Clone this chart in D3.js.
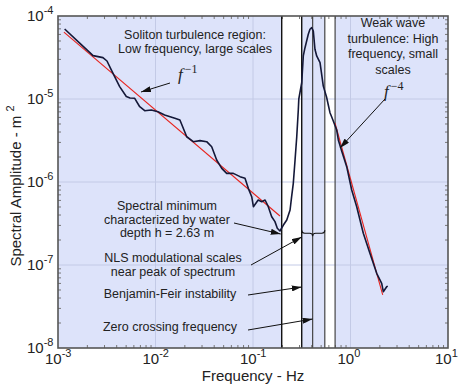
<!DOCTYPE html>
<html>
<head>
    <title>Wave spectrum</title>
    <script src="https://d3js.org/d3.v7.min.js"></script>
    <style>
        body {
            margin: 0;
            background: #fff;
        }
        svg text {
            font-family: "Liberation Sans", Arial, sans-serif;
            fill: #222;
        }
    </style>
</head>
<body>
    <div id="chart"></div>
    <script>
        // Spectrum: frequency (Hz) and amplitude (m^2)
        const freq = [
            1.17e-3, 1.68e-3, 2.29e-3, 2.89e-3, 3.18e-3, 3.52e-3, 4.29e-3, 5.02e-3, 5.48e-3, 6.12e-3,
            6.89e-3, 7.75e-3, 9.06e-3, 1.06e-2, 1.24e-2, 1.58e-2, 1.78e-2, 2.09e-2, 2.44e-2, 2.86e-2,
            3.35e-2, 3.77e-2, 4.24e-2, 4.78e-2, 5.37e-2, 6.28e-2, 7.36e-2, 8.28e-2, 8.95e-2, 9.70e-2,
            0.101, 0.113, 0.123, 0.133, 0.1435, 0.1555, 0.168, 0.1775, 0.189, 0.205,
            0.222, 0.240, 0.249, 0.259, 0.270, 0.281, 0.2915, 0.295, 0.316, 0.328,
            0.3415, 0.369, 0.384, 0.400, 0.4155, 0.432, 0.450, 0.487, 0.526, 0.570,
            0.592, 0.616, 0.642, 0.666, 0.722, 0.750, 0.812, 0.914, 1.029, 1.158,
            1.353, 1.585, 1.856, 2.089, 2.17, 2.35, 2.41
        ];
        const amp = [
            6.97e-5, 4.68e-5, 3.33e-5, 3.15e-5, 2.87e-5, 2.24e-5, 1.41e-5, 1.07e-5, 1.03e-5, 1.02e-5,
            8.07e-6, 7.23e-6, 7.37e-6, 7.03e-6, 6.42e-6, 5.85e-6, 5.58e-6, 3.51e-6, 3.06e-6, 3.15e-6,
            3.06e-6, 2.66e-6, 1.84e-6, 1.46e-6, 1.27e-6, 1.27e-6, 1.16e-6, 1.11e-6, 8.39e-7, 6.65e-7,
            5.04e-7, 6.07e-7, 5.79e-7, 6.07e-7, 5.04e-7, 3.82e-7, 3.33e-7, 2.77e-7, 2.57e-7, 3.03e-7,
            3.48e-7, 4.60e-7, 6.65e-7, 9.65e-7, 1.84e-6, 3.51e-6, 7.37e-6, 1.0e-5, 1.57e-5, 3.30e-5,
            4.15e-5, 6.02e-5, 6.92e-5, 7.23e-5, 6.60e-5, 3.97e-5, 3.30e-5, 2.74e-5, 1.43e-5, 1.04e-5,
            8.47e-6, 6.84e-6, 6.07e-6, 5.43e-6, 4.23e-6, 3.21e-6, 2.36e-6, 1.53e-6, 8.01e-7, 5.04e-7,
            2.41e-7, 1.38e-7, 7.94e-8, 6.02e-8, 4.77e-8, 5.48e-8, 5.57e-8
        ];

        // power-law fits (end points)
        const fitLow = [[1.15e-3, 6.39e-5], [0.189, 3.89e-7]];   // f^-1
        const fitHigh = [[0.693, 5.14e-6], [2.14, 4.36e-8]];     // f^-4

        // marked frequencies (Hz)
        const markFreq = [0.197, 0.316, 0.409, 0.545, 0.695];
        const whiteBands = [[0.197, 0.316], [0.545, 0.695]];

        const xTicks = [1e-3, 1e-2, 1e-1, 1e0, 1e1];
        const yTicks = [1e-8, 1e-7, 1e-6, 1e-5, 1e-4];

        const width = 463, height = 387;
        const margin = {top: 16, right: 15, bottom: 39, left: 58};

        const svg = d3.select('#chart').append('svg')
            .attr('width', width)
            .attr('height', height);

        const x = d3.scaleLog().domain([1e-3, 10]).range([margin.left, width - margin.right]);
        const y = d3.scaleLog().domain([1e-8, 1e-4]).range([height - margin.bottom, margin.top]);

        const x0 = x.range()[0], x1 = x.range()[1];
        const y0 = y.range()[1], y1 = y.range()[0];

        // arrow head
        svg.append('defs').append('marker')
            .attr('id', 'arrow')
            .attr('viewBox', '0 0 10 6')
            .attr('refX', 10).attr('refY', 3)
            .attr('markerWidth', 10).attr('markerHeight', 6)
            .attr('markerUnits', 'userSpaceOnUse')
            .attr('orient', 'auto')
            .append('path')
            .attr('d', 'M0,0 L10,3 L0,6 Z')
            .attr('fill', '#111');

        // background
        svg.append('rect')
            .attr('x', x0).attr('y', y0)
            .attr('width', x1 - x0).attr('height', y1 - y0)
            .attr('fill', '#dde3fa');

        svg.selectAll('.band')
            .data(whiteBands)
            .join('rect')
            .attr('x', d => x(d[0]))
            .attr('y', y0)
            .attr('width', d => x(d[1]) - x(d[0]))
            .attr('height', y1 - y0)
            .attr('fill', '#fff');

        // grid
        const grid = svg.append('g').attr('stroke', '#c3cae6').attr('stroke-width', 1);
        grid.selectAll('.gx')
            .data(xTicks.slice(1, -1))
            .join('line')
            .attr('x1', d => x(d)).attr('x2', d => x(d))
            .attr('y1', y0).attr('y2', y1);
        grid.selectAll('.gy')
            .data(yTicks.slice(1, -1))
            .join('line')
            .attr('x1', x0).attr('x2', x1)
            .attr('y1', d => y(d)).attr('y2', d => y(d));

        // minor ticks, inside on every side
        const minorX = [], minorY = [];
        xTicks.slice(0, -1).forEach(t => { for (let k = 2; k < 10; k++) minorX.push(t * k); });
        yTicks.slice(0, -1).forEach(t => { for (let k = 2; k < 10; k++) minorY.push(t * k); });

        const ticks = svg.append('g').attr('stroke', '#777').attr('stroke-width', 1);
        minorX.forEach(v => {
            ticks.append('line').attr('x1', x(v)).attr('x2', x(v)).attr('y1', y1).attr('y2', y1 - 3);
            ticks.append('line').attr('x1', x(v)).attr('x2', x(v)).attr('y1', y0).attr('y2', y0 + 3);
        });
        minorY.forEach(v => {
            ticks.append('line').attr('y1', y(v)).attr('y2', y(v)).attr('x1', x0).attr('x2', x0 + 3);
            ticks.append('line').attr('y1', y(v)).attr('y2', y(v)).attr('x1', x1).attr('x2', x1 - 3);
        });

        // marked frequency lines
        svg.selectAll('.mark')
            .data(markFreq)
            .join('line')
            .attr('x1', d => x(d)).attr('x2', d => x(d))
            .attr('y1', y0).attr('y2', y1)
            .attr('stroke', (d, i) => i < 2 ? '#111' : '#444')
            .attr('stroke-width', (d, i) => i < 2 ? 1.4 : 1.2);

        // fits
        const line = d3.line().x(d => x(d[0])).y(d => y(d[1]));
        svg.selectAll('.fit')
            .data([fitLow, fitHigh])
            .join('path')
            .attr('d', line)
            .attr('fill', 'none')
            .attr('stroke', '#e8221c')
            .attr('stroke-width', 1.1);

        // spectrum
        const spectrum = freq.map((f, i) => [f, amp[i]]);
        svg.append('path')
            .datum(spectrum)
            .attr('d', line)
            .attr('fill', 'none')
            .attr('stroke', '#141838')
            .attr('stroke-width', 1.6)
            .attr('stroke-linejoin', 'round');

        // brace over the NLS scales
        const bx0 = x(markFreq[1]), bxm = x(markFreq[2]), bx1 = x(markFreq[3]);
        const by = y(2.41e-7);
        svg.append('path')
            .attr('d', `M${bx0},${by - 3} Q${bx0},${by} ${bx0 + 3},${by} L${bxm - 3},${by} Q${bxm},${by} ${bxm},${by + 3}` +
                       ` Q${bxm},${by} ${bxm + 3},${by} L${bx1 - 3},${by} Q${bx1},${by} ${bx1},${by - 3}`)
            .attr('fill', 'none')
            .attr('stroke', '#111')
            .attr('stroke-width', 1.1);

        // frame
        svg.append('rect')
            .attr('x', x0).attr('y', y0)
            .attr('width', x1 - x0).attr('height', y1 - y0)
            .attr('fill', 'none')
            .attr('stroke', '#555')
            .attr('stroke-width', 1.6);

        // tick labels
        const expo = v => String(Math.round(Math.log10(v)));
        svg.selectAll('.xl')
            .data(xTicks)
            .join('text')
            .attr('x', d => x(d) - 13)
            .attr('y', y1 + 16)
            .style('font-size', '15px')
            .call(t => t.append('tspan').text('10'))
            .call(t => t.append('tspan').attr('dy', -7).style('font-size', '11px').text(d => expo(d)));

        svg.selectAll('.yl')
            .data(yTicks)
            .join('text')
            .attr('x', x0 - 31)
            .attr('y', d => y(d) + 5)
            .style('font-size', '15px')
            .call(t => t.append('tspan').text('10'))
            .call(t => t.append('tspan').attr('dy', -7).style('font-size', '11px').text(d => expo(d)));

        // axis titles
        svg.append('text')
            .attr('x', (x0 + x1) / 2)
            .attr('y', 381)
            .attr('text-anchor', 'middle')
            .style('font-size', '15px')
            .text('Frequency - Hz');

        const yt = svg.append('text')
            .attr('transform', `translate(21,${(y0 + y1) / 2 + 4}) rotate(-90)`)
            .attr('text-anchor', 'middle')
            .style('font-size', '15px');
        yt.append('tspan').text('Spectral Amplitude - m ');
        yt.append('tspan').attr('dy', -7).style('font-size', '11px').text('2');

        // annotations
        function block(lines, cx, by0, step) {
            const t = svg.append('text').attr('text-anchor', 'middle').style('font-size', '12.5px');
            lines.forEach((s, i) => t.append('tspan').attr('x', cx).attr('y', by0 + i * step).text(s));
        }
        block(['Soliton turbulence region:', 'Low frequency, large scales'], 195, 39, 14);
        block(['Weak wave', 'turbulence: High', 'frequency, small', 'scales'], 393, 27, 15.5);
        block(['Spectral minimum', 'characterized by water', 'depth h = 2.63 m'], 167, 210, 13.5);
        block(['NLS modulational scales', 'near peak of spectrum'], 173, 262, 13.5);
        block(['Benjamin-Feir instability'], 170, 298, 13);
        block(['Zero crossing frequency'], 170, 331, 13);

        function powerLabel(px, py, e) {
            const t = svg.append('text').attr('x', px).attr('y', py)
                .style('font-family', '"Liberation Serif", "Times New Roman", serif');
            t.append('tspan').style('font-size', '17px').style('font-style', 'italic').text('f');
            t.append('tspan').attr('dx', 2).attr('dy', -7).style('font-size', '12px').text(e);
        }
        powerLabel(178, 80, '\u22121');
        powerLabel(384, 97, '\u22124');

        const arrows = [
            [[170, 83], [141, 92]],
            [[385, 99], [340, 148]],
            [[234, 223], [x(markFreq[0]) - 1, 234]],
            [[251, 265], [x(markFreq[1]), 237]],
            [[248, 295], [x(markFreq[1]), 287]],
            [[248, 330], [x(markFreq[2]), 319]]
        ];
        svg.selectAll('.arrow')
            .data(arrows)
            .join('line')
            .attr('x1', d => d[0][0]).attr('y1', d => d[0][1])
            .attr('x2', d => d[1][0]).attr('y2', d => d[1][1])
            .attr('stroke', '#111')
            .attr('stroke-width', 1)
            .attr('marker-end', 'url(#arrow)');
    </script>
</body>
</html>
